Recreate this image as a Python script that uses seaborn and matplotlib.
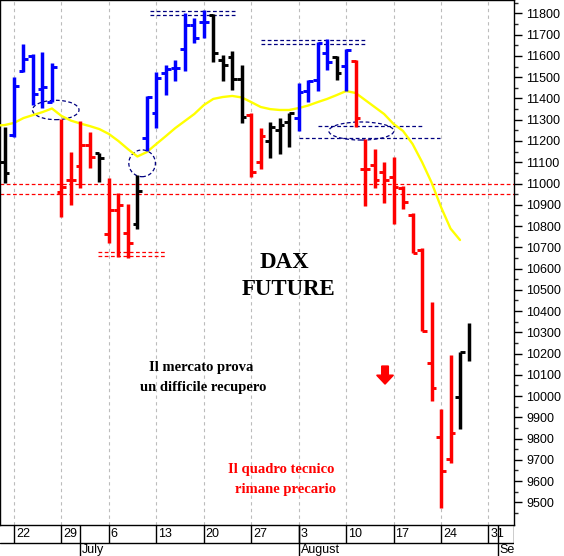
import numpy as np
import matplotlib
matplotlib.use("Agg")
import matplotlib.pyplot as plt
from matplotlib.patches import Ellipse
import seaborn as sns

# DAX future daily bars, 19 Jun 2015 (index 0) .. 27 Aug 2015 (index 49)
day_idx = list(range(50))
opens = [11101, 11228, 11531, 11601, 11445, 11385, 10958, 11016, 11084, 11181,
         11142, 10761, 10875, 10766, 10808, 11215, 11330, 11518, 11542, 11631,
         11746, 11761, 11793, 11581, 11597, 11492, 11322, 11101, 11200, 11252,
         11289, 11308, 11435, 11487, 11614, 11595, 11553, 11576, 11068, 11087,
         11054, 11031, 10979, 10852, 10687, 10154, 9806, 9703, 9997, np.nan]
highs = [11266, 11500, 11655, 11608, 11620, 11568, 11302, 11150, 11295, 11241,
         11145, 11027, 10957, 10902, 11040, 11412, 11526, 11558, 11581, 11801,
         11777, 11816, 11798, 11605, 11624, 11558, 11332, 11261, 11289, 11308,
         11332, 11473, 11487, 11666, 11680, 11600, 11633, 11581, 11209, 11162,
         11101, 11125, 10988, 10861, 10696, 10444, 9939, 10193, 10208, 10342]
lows = [11002, 11220, 11526, 11369, 11355, 11385, 10844, 10899, 10977, 11071,
        11008, 10718, 10655, 10651, 10784, 11154, 11260, 11416, 11482, 11529,
        11660, 11686, 11573, 11484, 11440, 11286, 11030, 11068, 11120, 11139,
        11172, 11247, 11383, 11435, 11534, 11487, 11435, 11266, 10894, 10979,
        10908, 10809, 10880, 10673, 10306, 9978, 9474, 9683, 9843, 10166]
closes = [11049, 11459, 11584, 11421, 11452, 11547, 10982, 11016, 11181, 11126,
          11119, 10875, 10899, 10718, 10965, 11408, 11495, 11539, 11542, 11746,
          11686, 11761, 11613, 11558, 11490, 11311, 11054, 11223, 11266, 11275,
          11332, 11431, 11482, 11661, 11572, 11520, 11628, 11308, 11068, 11016,
          11016, 10983, 10913, 10673, 10306, 10039, 9647, 9824, 10208, np.nan]
bar_codes = list("kbbbbbrrrrkrrrkbbbbbbbkkkkrrkkkbbbbkbrrrrrrrrrrrkk")

# moving average (yellow), from 18 Jun (index -1)
ma_idx = list(range(-1, 49))
ma_vals = [11272, 11275, 11285, 11308, 11322, 11336, 11353, 11318, 11296, 11282,
           11270, 11256, 11233, 11200, 11162, 11127, 11148, 11186, 11223, 11261,
           11294, 11327, 11369, 11398, 11407, 11412, 11405, 11383, 11360, 11350,
           11346, 11346, 11355, 11367, 11383, 11398, 11416, 11435, 11426, 11393,
           11360, 11327, 11280, 11247, 11186, 11101, 11005, 10889, 10788, 10734]

week_idx = [1, 6, 11, 16, 21, 26, 31, 36, 41, 46, 51]
week_labels = ["22", "29", "6", "13", "20", "27", "3", "10", "17", "24", "31"]
month_idx = [8, 31, 52]
month_labels = ["July", "August", "September"]

support_levels = [11000, 10950]
seg_start = [15.3, 15.3, 9.9, 9.9, 27, 27, 33, 31]
seg_end = [24.5, 24.5, 16.9, 16.9, 38.1, 38.1, 44.1, 45.9]
seg_level = [11813, 11794, 10676, 10659, 11675, 11656, 11272, 11215]
seg_color = ["navy", "navy", "red", "red", "navy", "navy", "navy", "navy"]

ell_x = [5.4, 14.5, 37.6]
ell_y = [11346, 11095, 11247]
ell_w = [4.9, 2.8, 6.85]
ell_h = [91, 126, 85]

arrow_x, arrow_top, arrow_bottom = 40.1, 10141, 10056

colors = {"k": "black", "b": "#0000ff", "r": "#ff0000"}
bar_colors = [colors[c] for c in bar_codes]

sns.set_theme(style="white")
plt.rcParams['font.family'] = ['Liberation Sans', 'DejaVu Sans']
plt.rcParams['text.color'] = 'black'

fig = plt.figure(figsize=(5.64, 5.56), dpi=100)
ax = fig.add_axes([0, 31 / 556, 514 / 564, 525 / 556])
xlim = (-0.475, 53.69)
ax.set_xlim(*xlim)
ax.set_ylim(9393, 11863.5)

# weekly grid
ax.set_xticks(week_idx)
ax.tick_params(axis='x', length=0, labelbottom=False)
ax.grid(axis='x', color='#bcbcbc', linestyle=(0, (3, 3)), linewidth=0.8)
ax.grid(axis='y', visible=False)

# levels
for lev in support_levels:
    ax.axhline(lev, color='red', linestyle=(0, (3, 2)), linewidth=0.9, zorder=2)
ax.hlines(seg_level, seg_start, seg_end, colors=seg_color,
          linestyles=[(0, (3, 2))] * len(seg_level), linewidth=0.9, zorder=2)
for ex, ey, ew, eh in zip(ell_x, ell_y, ell_w, ell_h):
    ax.add_patch(Ellipse((ex, ey), ew, eh, fill=False, edgecolor='navy',
                         linestyle=(0, (3, 2)), linewidth=0.9, zorder=2))

# moving average
sns.lineplot(x=ma_idx, y=ma_vals, color='#ffff00', linewidth=1.7, ax=ax, zorder=3)

# OHLC bars
x = np.array(day_idx, dtype=float)
ax.vlines(x, lows, highs, colors=bar_colors, linewidth=2.5, zorder=4)
ax.hlines(opens, x - 0.5, x, colors=bar_colors, linewidth=2.1, zorder=4)
ax.hlines(closes, x, x + 0.5, colors=bar_colors, linewidth=2.1, zorder=4)

ax.arrow(arrow_x, arrow_top, 0, arrow_bottom - arrow_top, width=0.7,
         head_width=1.76, head_length=42, length_includes_head=True,
         color='red', zorder=5)

# y axis on the right
ax.yaxis.tick_right()
ax.set_yticks(range(9500, 11900, 100))
ax.set_yticks(range(9450, 11900, 100), minor=True)
ax.tick_params(axis='y', which='major', length=6, width=1, direction='out',
               pad=3, labelsize=9, colors='black', right=True)
ax.tick_params(axis='y', which='minor', length=3, width=1, direction='out', right=True)
for s in ax.spines.values():
    s.set_color('black')
    s.set_linewidth(1)

# texts
serif = ['Liberation Serif', 'DejaVu Serif']
ax.text(284 / 514, 1 - 263 / 525, "DAX", family=serif, fontweight='bold',
        fontsize=16.5, ha='center', va='center', transform=ax.transAxes)
ax.text(289 / 514, 1 - 289.5 / 525, "FUTURE", family=serif, fontweight='bold',
        fontsize=16.5, ha='center', va='center', transform=ax.transAxes)
ax.text(201 / 514, 1 - 368 / 525, "Il mercato prova", family=serif,
        fontweight='bold', fontsize=10.5, ha='center', va='center', transform=ax.transAxes)
ax.text(203 / 514, 1 - 387 / 525, "un difficile recupero", family=serif,
        fontweight='bold', fontsize=10.5, ha='center', va='center', transform=ax.transAxes)
ax.text(334 / 514, 1 - 470 / 525, "Il quadro tecnico", family=serif, color='red',
        fontweight='bold', fontsize=10.5, ha='right', va='center', transform=ax.transAxes)
ax.text(336 / 514, 1 - 489.5 / 525, "rimane precario", family=serif, color='red',
        fontweight='bold', fontsize=10.5, ha='right', va='center', transform=ax.transAxes)

# date band below the chart
dax = fig.add_axes([0, 0, 514 / 564, 31 / 556])
dax.set_xlim(*xlim)
dax.set_ylim(0, 1)
dax.axis('off')
row = 13 / 31
dax.axhline(row, color='black', linewidth=1)
dax.vlines(week_idx, row, 1, colors='black', linewidth=1)
dax.vlines(month_idx, 0, 1, colors='black', linewidth=1)
dax.vlines([xlim[1] - 0.05], row, 1, colors='black', linewidth=1)
for wi, wl in zip(week_idx, week_labels):
    dax.text(wi + 0.2, 0.71, wl, fontsize=9, color='black', ha='left',
             va='center', clip_on=True)
for mi, ml in zip(month_idx, month_labels):
    dax.text(mi + 0.2, 0.2, ml, fontsize=9, color='black', ha='left',
             va='center', clip_on=True)

fig.savefig("out.png", dpi=100)
